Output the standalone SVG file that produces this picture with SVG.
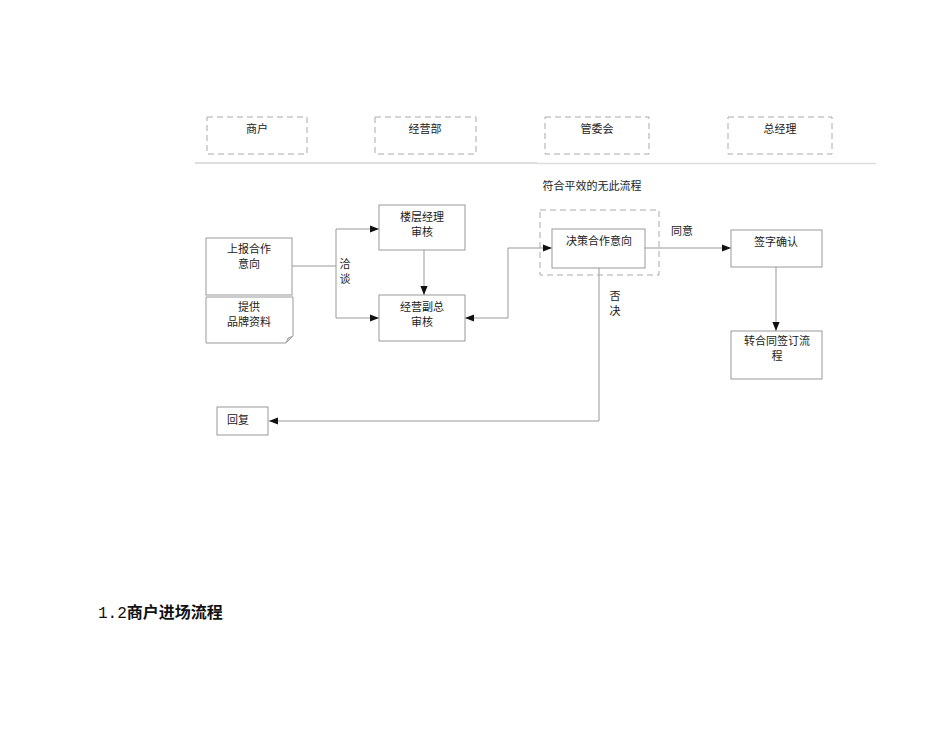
<svg xmlns="http://www.w3.org/2000/svg" width="950" height="735" viewBox="0 0 950 735">
<style>
.t{font-family:"Noto Sans CJK SC","Noto Sans",sans-serif;font-size:11px;fill:#222;text-anchor:middle}
.lane{fill:none;stroke:#aaa;stroke-width:1;stroke-dasharray:6,4}
.box{fill:#fff;stroke:#999;stroke-width:1}
.c{fill:none;stroke:#999;stroke-width:1}
</style>
<defs>
<marker id="ar" viewBox="0 0 10 10" refX="10" refY="5" markerWidth="9" markerHeight="9" markerUnits="userSpaceOnUse" orient="auto">
<path d="M0,1 L10,5 L0,9 Z" fill="#111"/>
</marker>
</defs>
<rect width="950" height="735" fill="#fff"/>

<g id="lanes">
<g id="lane-shanghu"><rect class="lane" x="207" y="117" width="100" height="37"/><text class="t" x="257" y="133">商户</text></g>
<g id="lane-jingyingbu"><rect class="lane" x="375" y="117" width="101" height="37"/><text class="t" x="425" y="133">经营部</text></g>
<g id="lane-guanweihui"><rect class="lane" x="545" y="117" width="104" height="37"/><text class="t" x="597" y="133">管委会</text></g>
<g id="lane-zongjingli"><rect class="lane" x="728" y="117" width="104" height="37"/><text class="t" x="780" y="133">总经理</text></g>
<line x1="195" y1="163" x2="537" y2="163" stroke="#bbb" stroke-width="1.2"/>
<line x1="537" y1="163.5" x2="876" y2="163.5" stroke="#ddd" stroke-width="1.5"/>
</g>

<g id="connectors">
<polyline class="c" points="292,266 336,266"/>
<polyline class="c" points="336,266 336,229 379,229" marker-end="url(#ar)"/>
<polyline class="c" points="336,266 336,318 379,318" marker-end="url(#ar)"/>
<line class="c" x1="424" y1="250" x2="424" y2="295" marker-end="url(#ar)"/>
<polyline class="c" points="508,318 508,248 552,248" marker-end="url(#ar)"/>
<polyline class="c" points="508,318 465,318" marker-end="url(#ar)"/>
<line class="c" x1="645" y1="248" x2="731" y2="248" marker-end="url(#ar)"/>
<line class="c" x1="776" y1="267" x2="776" y2="331" marker-end="url(#ar)"/>
<polyline class="c" points="599,268 599,421 269,421" marker-end="url(#ar)"/>
<text class="t" x="345" y="268">洽</text>
<text class="t" x="345" y="283">谈</text>
<text class="t" x="682" y="235">同意</text>
<text class="t" x="615" y="300">否</text>
<text class="t" x="615" y="315">决</text>
</g>

<g id="node-fuhe">
<rect class="lane" x="540" y="210" width="119" height="65"/>
<text class="t" x="592" y="190">符合平效的无此流程</text>
</g>
<g id="node-juece"><rect class="box" x="552" y="229" width="93" height="39"/><text class="t" x="599" y="245">决策合作意向</text></g>
<g id="node-shangbao"><rect class="box" x="206" y="238" width="86" height="57"/><text class="t" x="249" y="253">上报合作</text><text class="t" x="249" y="268">意向</text></g>
<g id="node-tigong"><path class="box" d="M206,297 H293 V336 L286,343 H206 Z"/><path d="M286,343 L288,338 L293,336 Z" fill="#ccc" stroke="#999" stroke-width="0.8"/><text class="t" x="249" y="311">提供</text><text class="t" x="249" y="326">品牌资料</text></g>
<g id="node-louceng"><rect class="box" x="379" y="205" width="86" height="45"/><text class="t" x="422" y="221">楼层经理</text><text class="t" x="422" y="236">审核</text></g>
<g id="node-fuzong"><rect class="box" x="379" y="295" width="86" height="46"/><text class="t" x="422" y="311">经营副总</text><text class="t" x="422" y="326">审核</text></g>
<g id="node-qianzi"><rect class="box" x="731" y="230" width="91" height="37"/><text class="t" x="776" y="246">签字确认</text></g>
<g id="node-zhuan"><rect class="box" x="731" y="331" width="91" height="48"/><text class="t" x="777" y="345">转合同签订流</text><text class="t" x="777" y="360">程</text></g>
<g id="node-huifu"><rect class="box" x="217" y="407" width="51" height="28"/><text class="t" x="238" y="424">回复</text></g>

<text x="98" y="618" font-family="Noto Sans CJK SC,sans-serif" font-size="16" font-weight="bold" fill="#111"><tspan font-family="Liberation Mono,monospace" font-weight="normal">1.2</tspan>商户进场流程</text>
</svg>
